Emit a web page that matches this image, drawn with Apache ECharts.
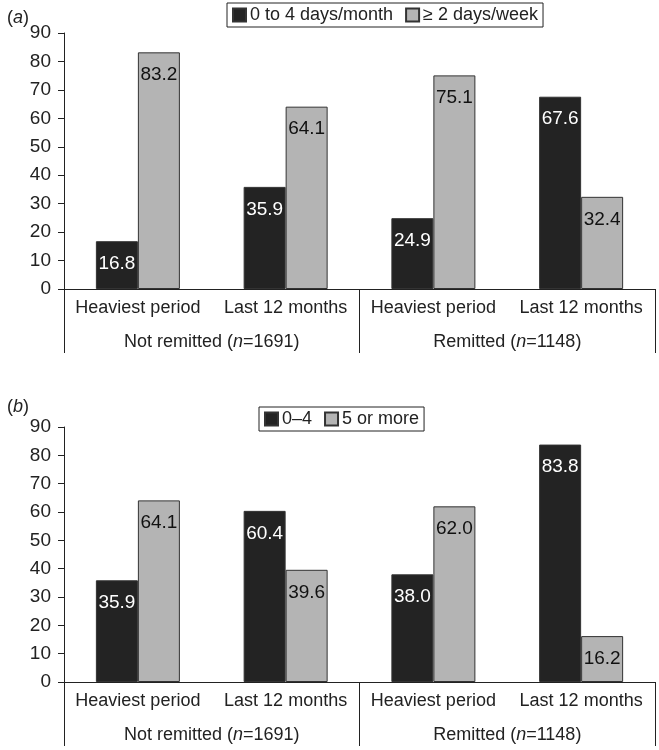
<!DOCTYPE html>
<html><head><meta charset="utf-8">
<script src="https://cdn.jsdelivr.net/npm/echarts@6/dist/echarts.min.js"></script>
<style>html,body{margin:0;padding:0;background:#fff}#c{width:659px;height:750px}</style>
</head><body><div id="c"></div>
<script>
const categories = ['Heaviest period', 'Last 12 months', 'Heaviest period', 'Last 12 months'];
const groups = ['Not remitted', 'Remitted'];
const groupN = ['1691', '1148'];
const seriesNamesA = ['0 to 4 days/month', '\u2265 2 days/week'];
const darkA = [16.8, 35.9, 24.9, 67.6];
const grayA = [83.2, 64.1, 75.1, 32.4];
const seriesNamesB = ['0\u20134', '5 or more'];
const darkB = [35.9, 60.4, 38.0, 83.8];
const grayB = [64.1, 39.6, 62.0, 16.2];
const yTicks = [0, 10, 20, 30, 40, 50, 60, 70, 80, 90];

const FONT = 'Liberation Sans';
const DARK = '#232323';
const GRAY = '#b4b4b4';
const INK = '#222';

const chart = echarts.init(document.getElementById('c'), null, {renderer: 'canvas'});

function groupFormatter(v) {
  const i = groups.indexOf(v);
  return v + ' ({it|n}=' + groupN[i] + ')';
}

const grids = [
  {left: 64, right: 4, top: 33, height: 256},
  {left: 64, right: 4, top: 427, height: 255}
];

const xAxes = [], yAxes = [], series = [], legends = [];
[0, 1].forEach(gi => {
  xAxes.push({
    type: 'category', gridIndex: gi, data: categories,
    axisLine: {show: true, lineStyle: {color: INK, width: 1}},
    axisTick: {show: false},
    axisLabel: {color: INK, fontFamily: FONT, fontSize: 18, margin: 10, interval: 0}
  });
  xAxes.push({
    type: 'category', gridIndex: gi, data: groups, position: 'bottom',
    axisLine: {show: false},
    axisTick: {show: true, length: 64, lineStyle: {color: INK, width: 1}},
    axisLabel: {color: INK, fontFamily: FONT, fontSize: 18, margin: 44, interval: 0,
      formatter: groupFormatter,
      rich: {it: {fontStyle: 'italic', fontFamily: FONT, fontSize: 18, color: INK}}}
  });
  yAxes.push({
    type: 'value', gridIndex: gi, min: yTicks[0], max: yTicks[yTicks.length - 1], interval: 10,
    splitLine: {show: false},
    axisLine: {show: true, lineStyle: {color: INK, width: 1}},
    axisTick: {show: true, length: 6, lineStyle: {color: INK}},
    axisLabel: {color: INK, fontFamily: FONT, fontSize: 19, margin: 13}
  });
});

function mkSeries(name, data, gi, color, labelColor) {
  return {
    name: name, type: 'bar', xAxisIndex: gi * 2, yAxisIndex: gi, data: data,
    barWidth: 42, barGap: '0%',
    itemStyle: {color: color, borderColor: '#333', borderWidth: 1},
    label: {show: true, position: 'insideTop', distance: 13, color: labelColor,
      fontFamily: FONT, fontSize: 19, formatter: p => p.value.toFixed(1)}
  };
}
series.push(mkSeries(seriesNamesA[0], darkA, 0, DARK, '#fff'));
series.push(mkSeries(seriesNamesA[1], grayA, 0, GRAY, '#111'));
series.push(mkSeries(seriesNamesB[0], darkB, 1, DARK, '#fff'));
series.push(mkSeries(seriesNamesB[1], grayB, 1, GRAY, '#111'));

const legendCommon = {
  orient: 'horizontal', icon: 'rect', itemWidth: 13, itemHeight: 13, itemGap: 12,
  borderColor: '#222', borderWidth: 1, padding: [3, 5, 3, 5],
  textStyle: {fontFamily: FONT, fontSize: 18, color: INK, padding: [0, 0, 0, -1]}
};
legends.push(Object.assign({}, legendCommon, {data: seriesNamesA, left: 227, top: 3}));
legends.push(Object.assign({}, legendCommon, {data: seriesNamesB, left: 259, top: 407}));

const titles = [
  {text: '({i|a})', left: 2, top: 4,
   textStyle: {fontFamily: FONT, fontSize: 18, fontWeight: 'normal', color: INK,
     rich: {i: {fontStyle: 'italic', fontFamily: FONT, fontSize: 18, color: INK}}}},
  {text: '({i|b})', left: 2, top: 393,
   textStyle: {fontFamily: FONT, fontSize: 18, fontWeight: 'normal', color: INK,
     rich: {i: {fontStyle: 'italic', fontFamily: FONT, fontSize: 18, color: INK}}}}
];

chart.setOption({
  animation: false,
  title: titles,
  legend: legends,
  grid: grids,
  xAxis: xAxes,
  yAxis: yAxes,
  series: series
});
</script></body></html>
